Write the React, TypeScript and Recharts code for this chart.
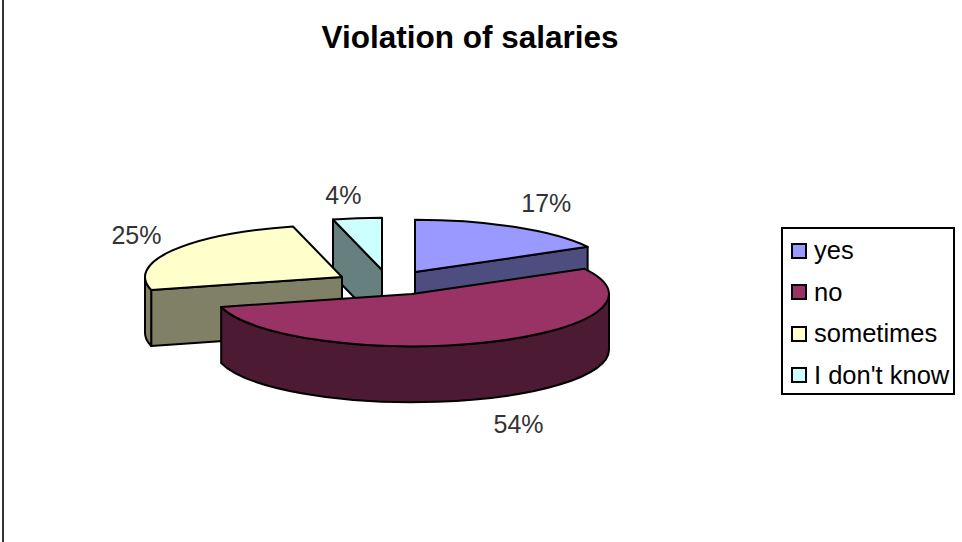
import { Legend, Pie, PieChart } from "recharts";

const categories = ["yes", "no", "sometimes", "I don't know"];
const values = [17, 54, 25, 4];

const topColors = ["#9999FF", "#993366", "#FFFFCC", "#CCFFFF"];
const sideColors = ["#4D4D80", "#4D1A33", "#808066", "#668080"];

// back to front, so "no" ends up over everything
const drawOrder = [0, 3, 2, 1];

// how far each slice is pulled out of the pie, and label shift from its rim
const explode = [[15, -8], [12, 14], [-58, -3], [-18, -10]];
const labelNudge = [[31, -24], [34, 81], [-36, -15], [-14, -23]];

const CX = 400;
const CY = 280;
const RADIUS = 197;
const SQUASH = 0.265;
const DEPTH = 56;
const RAD = Math.PI / 180;
const FONT = "'Liberation Sans', Arial, sans-serif";

const data = categories.map((name, i) => ({ name, value: values[i] }));

const rimPoint = (ax: number, ay: number, r: number, deg: number) => ({
  x: ax + r * Math.cos(deg * RAD),
  y: ay - r * SQUASH * Math.sin(deg * RAD),
});

const Slice3D = (props: any, only: number) => {
  const i = categories.indexOf(props.name ?? props.payload?.name);
  if (i !== only) return <g />;
  const { cx, cy, outerRadius: r, startAngle, endAngle } = props;
  const ax = cx + explode[i][0];
  const ay = cy + explode[i][1];
  const ry = r * SQUASH;
  const at = (deg: number) => rimPoint(ax, ay, r, deg);
  const p0 = at(startAngle);
  const p1 = at(endAngle);
  const mid = at((startAngle + endAngle) / 2);
  const large = startAngle - endAngle > 180 ? 1 : 0;
  const stroke = { stroke: "#000", strokeWidth: 2, strokeLinejoin: "round" as const };

  const cutFace = (p: { x: number; y: number }) => {
    const dx = p.x - ax;
    const dy = p.y - ay;
    const inner = dx * (mid.y - ay) - dy * (mid.x - ax);
    if (inner * dx >= 0) return null;
    return (
      <path
        d={`M${ax},${ay} L${p.x},${p.y} L${p.x},${p.y + DEPTH} L${ax},${ay + DEPTH} Z`}
        fill={sideColors[i]}
        {...stroke}
      />
    );
  };

  // only the lower half of the rim faces the viewer
  const hi = Math.min(startAngle, 0);
  const lo = Math.max(endAngle, -180);
  let wall = null;
  if (hi > lo) {
    const a = at(hi);
    const b = at(lo);
    wall = (
      <path
        d={`M${a.x},${a.y} A${r},${ry} 0 0 1 ${b.x},${b.y} L${b.x},${b.y + DEPTH} A${r},${ry} 0 0 0 ${a.x},${a.y + DEPTH} Z`}
        fill={sideColors[i]}
        {...stroke}
      />
    );
  }

  return (
    <g>
      {cutFace(p0)}
      {cutFace(p1)}
      {wall}
      <path
        d={`M${ax},${ay} L${p0.x},${p0.y} A${r},${ry} 0 ${large} 1 ${p1.x},${p1.y} Z`}
        fill={topColors[i]}
        {...stroke}
      />
    </g>
  );
};

const SliceLabel = (props: any, only: number) => {
  const i = categories.indexOf(props.name ?? props.payload?.name);
  if (i !== only) return <g />;
  const rim = rimPoint(props.cx + explode[i][0], props.cy + explode[i][1], props.outerRadius, props.midAngle);
  return (
    <text
      x={rim.x + labelNudge[i][0]}
      y={rim.y + labelNudge[i][1]}
      textAnchor="middle"
      dominantBaseline="central"
      fontFamily={FONT}
      fontSize={25}
      fill="#333"
    >
      {`${Math.round(props.percent * 100)}%`}
    </text>
  );
};

const LegendBox = () => (
  <div
    style={{
      width: 174,
      height: 168,
      boxSizing: "border-box",
      border: "2px solid #000",
      background: "#fff",
      paddingTop: 1,
      fontFamily: FONT,
      fontSize: 25.5,
      color: "#000",
    }}
  >
    {categories.map((name, i) => (
      <div key={name} style={{ display: "flex", alignItems: "center", height: 41.5, paddingLeft: 8 }}>
        <span
          style={{
            width: 12,
            height: 12,
            border: "2px solid #000",
            background: topColors[i],
            marginRight: 7,
            flex: "none",
          }}
        />
        <span style={{ whiteSpace: "nowrap" }}>{name}</span>
      </div>
    ))}
  </div>
);

export default function App() {
  return (
    <div style={{ position: "absolute", left: 0, top: 0, width: 962, height: 542, background: "#fff", overflow: "hidden" }}>
      <div style={{ position: "absolute", left: 2, top: 0, width: 2, height: 542, background: "#333" }} />
      <PieChart width={962} height={542} margin={{ top: 0, right: 0, bottom: 0, left: 0 }}>
        <text
          x={470}
          y={37}
          textAnchor="middle"
          dominantBaseline="central"
          fontFamily={FONT}
          fontSize={31.5}
          fontWeight="bold"
          fill="#000"
        >
          Violation of salaries
        </text>
        {drawOrder.map((only) => (
          <Pie
            key={only}
            data={data}
            dataKey="value"
            nameKey="name"
            cx={CX}
            cy={CY}
            innerRadius={0}
            outerRadius={RADIUS}
            startAngle={90}
            endAngle={-270}
            stroke="none"
            legendType="none"
            labelLine={false}
            label={(p: any) => SliceLabel(p, only)}
            shape={(p: any) => Slice3D(p, only)}
            isAnimationActive={false}
          />
        ))}
        <Legend content={LegendBox} wrapperStyle={{ position: "absolute", left: 781, top: 227, width: 174, height: 168 }} />
      </PieChart>
    </div>
  );
}
